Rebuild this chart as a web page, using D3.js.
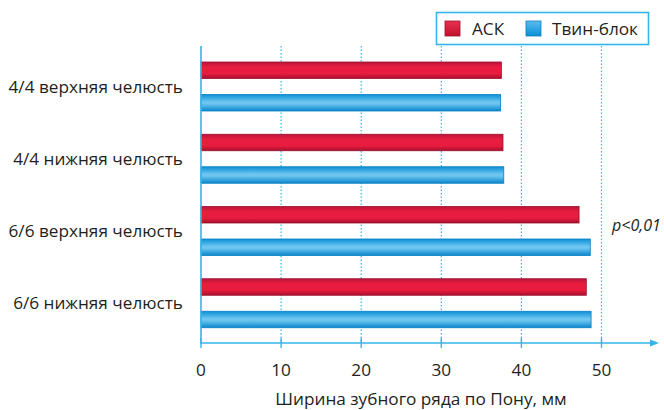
<!DOCTYPE html>
<html><head><meta charset="utf-8">
<script src="https://cdn.jsdelivr.net/npm/d3@7"></script>
<style>body{margin:0;background:#fff}svg{display:block}text{font-family:"Open Sans","Noto Sans",sans-serif;fill:#231f20}</style>
</head><body><svg id="c" width="664" height="410"></svg>
<script>
const categories = ["4/4 верхняя челюсть","4/4 нижняя челюсть","6/6 верхняя челюсть","6/6 нижняя челюсть"];
const seriesNames = ["АСК","Твин-блок"];
const askValues = [37.5, 37.7, 47.2, 48.1];
const twinValues = [37.4, 37.8, 48.6, 48.7];
const xTicks = [0,10,20,30,40,50];
const axisTitle = "Ширина зубного ряда по Пону, мм";
const note = "p<0,01";

const svg = d3.select("#c");
const x0 = 201, axisY = 343, plotTop = 46;
const x = d3.scaleLinear().domain([0,50]).range([x0, 601.5]);
const y = d3.scaleBand().domain(categories).range([50, 339]).paddingInner(0).paddingOuter(0);
const axisCol = "#35b5e9";
const fs = 17.2;

const defs = svg.append("defs");
function grad(id, stops){
  const g = defs.append("linearGradient").attr("id", id).attr("x1",0).attr("y1",0).attr("x2",0).attr("y2",1);
  stops.forEach(s=>g.append("stop").attr("offset",s[0]).attr("stop-color",s[1]));
}
grad("gRed", [[0,"#b8153a"],[0.3,"#e81c3f"],[0.7,"#e81c3f"],[1,"#a8102e"]]);
grad("gBlue", [[0,"#0a8fd6"],[0.45,"#6ec6f0"],[0.55,"#6ec6f0"],[1,"#0a86cc"]]);
grad("gRedL", [[0,"#e8334f"],[1,"#c0102f"]]);
grad("gBlueL", [[0,"#5bbdf0"],[1,"#0a8fd6"]]);

// gridlines
svg.append("g").selectAll("line").data(xTicks.filter(d=>d>0)).join("line")
  .attr("x1",d=>x(d)).attr("x2",d=>x(d)).attr("y1",plotTop).attr("y2",axisY)
  .attr("stroke",axisCol).attr("stroke-width",1.2).attr("stroke-dasharray","1.5,2");

// bars
const bh = 16.5;
const rows = categories.map((c,i)=>({c, a:askValues[i], t:twinValues[i]}));
const g = svg.append("g");
g.selectAll("rect.a").data(rows).join("rect").attr("class","a")
  .attr("x",x(0)).attr("y",d=>y(d.c)+12).attr("width",d=>x(d.a)-x(0)).attr("height",bh)
  .attr("fill","url(#gRed)").attr("stroke","#9e0f2c").attr("stroke-width",0.8);
g.selectAll("rect.t").data(rows).join("rect").attr("class","t")
  .attr("x",x(0)).attr("y",d=>y(d.c)+44.5).attr("width",d=>x(d.t)-x(0)).attr("height",bh)
  .attr("fill","url(#gBlue)").attr("stroke","#0a7fc4").attr("stroke-width",0.8);

// category labels
svg.append("g").selectAll("text").data(categories).join("text")
  .attr("x",183).attr("y",d=>y(d)+42.5).attr("text-anchor","end")
  .attr("font-size",fs).text(d=>d);

// axes
svg.append("line").attr("x1",x0).attr("x2",x0).attr("y1",plotTop).attr("y2",axisY+1).attr("stroke",axisCol).attr("stroke-width",1.6);
svg.append("line").attr("x1",x0).attr("x2",652).attr("y1",axisY).attr("y2",axisY).attr("stroke",axisCol).attr("stroke-width",1.6);
svg.append("path").attr("d",`M650,${axisY-3.5} L659,${axisY} L650,${axisY+3.5}Z`).attr("fill",axisCol);
const xa = svg.append("g");
xa.selectAll("line").data(xTicks).join("line").attr("x1",d=>x(d)).attr("x2",d=>x(d)).attr("y1",axisY-5).attr("y2",axisY+5).attr("stroke",axisCol).attr("stroke-width",1.4);
xa.selectAll("text").data(xTicks).join("text").attr("x",d=>x(d)).attr("y",375.5).attr("text-anchor","middle").attr("font-size",fs).text(d=>d);
svg.append("text").attr("x",421).attr("y",405).attr("text-anchor","middle").attr("font-size",fs).text(axisTitle);

// note
svg.append("text").attr("x",612).attr("y",231).attr("font-size",16).attr("font-style","italic").text(note);

// legend
const lg = svg.append("g");
lg.append("rect").attr("x",436.5).attr("y",12.5).attr("width",212).attr("height",32).attr("fill","#fff").attr("stroke",axisCol).attr("stroke-width",1.6);
const lx = [445, 526], tx = [472, 552];
seriesNames.forEach((n,i)=>{
  lg.append("rect").attr("x",lx[i]).attr("y",21).attr("width",15).attr("height",15)
    .attr("fill",i?"url(#gBlueL)":"url(#gRedL)").attr("stroke",i?"#0a7fc4":"#9e0f2c").attr("stroke-width",0.8);
  lg.append("text").attr("x",tx[i]).attr("y",35).attr("font-size",fs).text(n);
});
</script></body></html>
